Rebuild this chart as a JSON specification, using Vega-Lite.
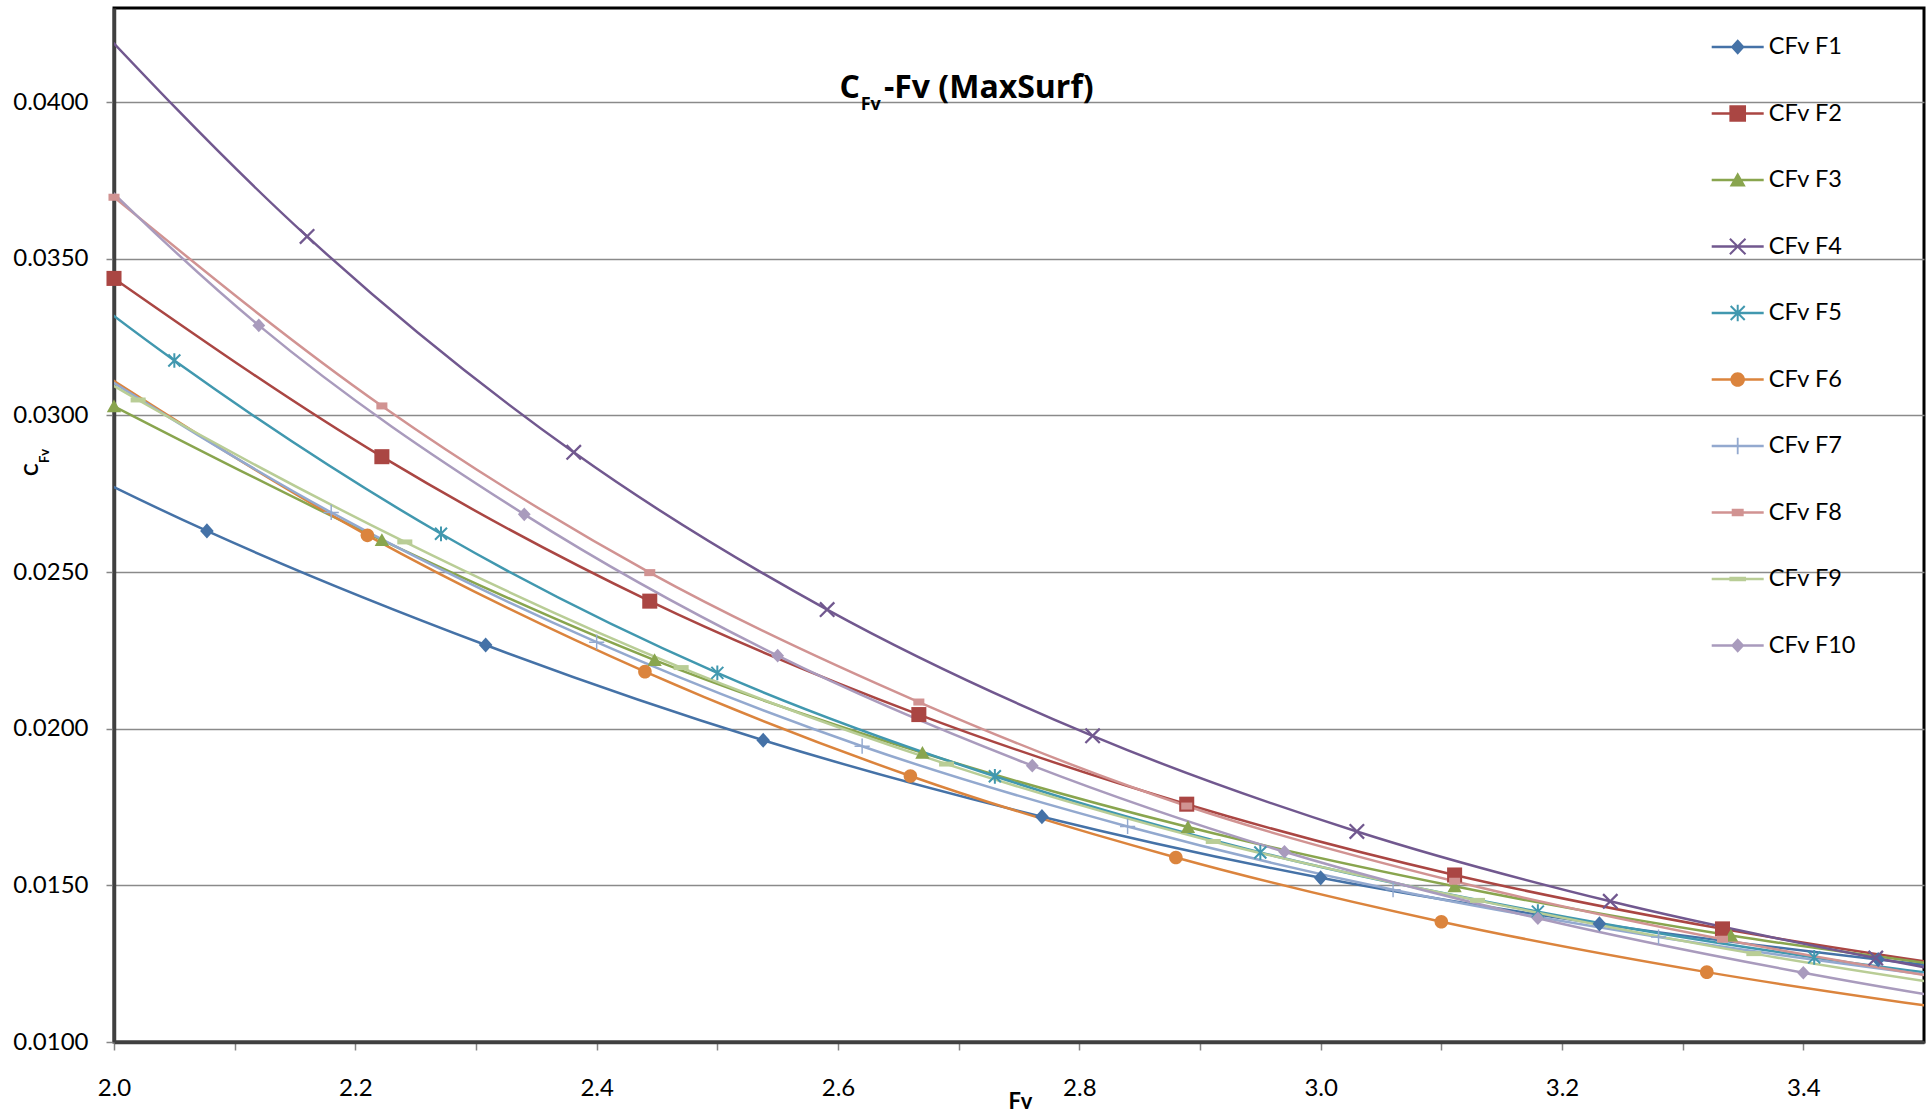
{
  "$schema": "https://vega.github.io/schema/vega-lite/v6.json",
  "width": 1810,
  "height": 1034,
  "autosize": {"type": "none"},
  "padding": {"left": 114, "top": 8, "right": 8, "bottom": 70},
  "background": "white",
  "config": {
    "view": {"stroke": "black", "strokeWidth": 3},
    "font": "Lato",
    "axis": {
      "domainColor": "#404040",
      "domainWidth": 3.5,
      "tickColor": "#868686",
      "tickWidth": 1.5,
      "tickSize": 8,
      "labelFont": "Lato",
      "labelFontSize": 24,
      "labelColor": "black",
      "labelFlush": false,
      "labelOverlap": false,
      "labelBound": false
    }
  },
  "datasets": {
    "cfv": [
      {"series": "CFv F1", "Fv": 1.846, "CFv": 0.03072},
      {"series": "CFv F1", "Fv": 2.077, "CFv": 0.02631},
      {"series": "CFv F1", "Fv": 2.308, "CFv": 0.02267},
      {"series": "CFv F1", "Fv": 2.538, "CFv": 0.01963},
      {"series": "CFv F1", "Fv": 2.769, "CFv": 0.01719},
      {"series": "CFv F1", "Fv": 3.0, "CFv": 0.01524},
      {"series": "CFv F1", "Fv": 3.231, "CFv": 0.01377},
      {"series": "CFv F1", "Fv": 3.462, "CFv": 0.01263},
      {"series": "CFv F1", "Fv": 3.692, "CFv": 0.0117},
      {"series": "CFv F2", "Fv": 2.0, "CFv": 0.03437},
      {"series": "CFv F2", "Fv": 2.222, "CFv": 0.02868},
      {"series": "CFv F2", "Fv": 2.444, "CFv": 0.02407},
      {"series": "CFv F2", "Fv": 2.667, "CFv": 0.02045},
      {"series": "CFv F2", "Fv": 2.889, "CFv": 0.01759},
      {"series": "CFv F2", "Fv": 3.111, "CFv": 0.01533},
      {"series": "CFv F2", "Fv": 3.333, "CFv": 0.01361},
      {"series": "CFv F2", "Fv": 3.556, "CFv": 0.01226},
      {"series": "CFv F3", "Fv": 2.0, "CFv": 0.03029},
      {"series": "CFv F3", "Fv": 2.222, "CFv": 0.02602},
      {"series": "CFv F3", "Fv": 2.448, "CFv": 0.02219},
      {"series": "CFv F3", "Fv": 2.67, "CFv": 0.01923},
      {"series": "CFv F3", "Fv": 2.89, "CFv": 0.01686},
      {"series": "CFv F3", "Fv": 3.111, "CFv": 0.01497},
      {"series": "CFv F3", "Fv": 3.34, "CFv": 0.0134},
      {"series": "CFv F3", "Fv": 3.562, "CFv": 0.01222},
      {"series": "CFv F4", "Fv": 1.943, "CFv": 0.0442},
      {"series": "CFv F4", "Fv": 2.16, "CFv": 0.03571},
      {"series": "CFv F4", "Fv": 2.381, "CFv": 0.02882},
      {"series": "CFv F4", "Fv": 2.591, "CFv": 0.0238},
      {"series": "CFv F4", "Fv": 2.811, "CFv": 0.01977},
      {"series": "CFv F4", "Fv": 3.03, "CFv": 0.01672},
      {"series": "CFv F4", "Fv": 3.24, "CFv": 0.01449},
      {"series": "CFv F4", "Fv": 3.46, "CFv": 0.01268},
      {"series": "CFv F4", "Fv": 3.678, "CFv": 0.0112},
      {"series": "CFv F5", "Fv": 1.823, "CFv": 0.0386},
      {"series": "CFv F5", "Fv": 2.05, "CFv": 0.03175},
      {"series": "CFv F5", "Fv": 2.271, "CFv": 0.02622},
      {"series": "CFv F5", "Fv": 2.5, "CFv": 0.02178},
      {"series": "CFv F5", "Fv": 2.73, "CFv": 0.01848},
      {"series": "CFv F5", "Fv": 2.95, "CFv": 0.01605},
      {"series": "CFv F5", "Fv": 3.18, "CFv": 0.01416},
      {"series": "CFv F5", "Fv": 3.409, "CFv": 0.0127},
      {"series": "CFv F5", "Fv": 3.636, "CFv": 0.01158},
      {"series": "CFv F6", "Fv": 1.99, "CFv": 0.03134},
      {"series": "CFv F6", "Fv": 2.21, "CFv": 0.02617},
      {"series": "CFv F6", "Fv": 2.44, "CFv": 0.02182},
      {"series": "CFv F6", "Fv": 2.66, "CFv": 0.01849},
      {"series": "CFv F6", "Fv": 2.88, "CFv": 0.01589},
      {"series": "CFv F6", "Fv": 3.1, "CFv": 0.01384},
      {"series": "CFv F6", "Fv": 3.32, "CFv": 0.01223},
      {"series": "CFv F6", "Fv": 3.54, "CFv": 0.01095},
      {"series": "CFv F7", "Fv": 1.96, "CFv": 0.032},
      {"series": "CFv F7", "Fv": 2.18, "CFv": 0.0269},
      {"series": "CFv F7", "Fv": 2.4, "CFv": 0.02276},
      {"series": "CFv F7", "Fv": 2.62, "CFv": 0.01944},
      {"series": "CFv F7", "Fv": 2.84, "CFv": 0.01688},
      {"series": "CFv F7", "Fv": 3.06, "CFv": 0.01486},
      {"series": "CFv F7", "Fv": 3.28, "CFv": 0.01335},
      {"series": "CFv F7", "Fv": 3.5, "CFv": 0.01216},
      {"series": "CFv F8", "Fv": 2.0, "CFv": 0.03696},
      {"series": "CFv F8", "Fv": 2.222, "CFv": 0.0303},
      {"series": "CFv F8", "Fv": 2.444, "CFv": 0.02498},
      {"series": "CFv F8", "Fv": 2.667, "CFv": 0.02085},
      {"series": "CFv F8", "Fv": 2.889, "CFv": 0.01753},
      {"series": "CFv F8", "Fv": 3.111, "CFv": 0.01513},
      {"series": "CFv F8", "Fv": 3.333, "CFv": 0.01328},
      {"series": "CFv F8", "Fv": 3.556, "CFv": 0.01178},
      {"series": "CFv F9", "Fv": 1.8, "CFv": 0.0357},
      {"series": "CFv F9", "Fv": 2.02, "CFv": 0.03049},
      {"series": "CFv F9", "Fv": 2.241, "CFv": 0.02596},
      {"series": "CFv F9", "Fv": 2.47, "CFv": 0.02195},
      {"series": "CFv F9", "Fv": 2.69, "CFv": 0.01887},
      {"series": "CFv F9", "Fv": 2.911, "CFv": 0.0164},
      {"series": "CFv F9", "Fv": 3.13, "CFv": 0.01452},
      {"series": "CFv F9", "Fv": 3.359, "CFv": 0.01282},
      {"series": "CFv F9", "Fv": 3.58, "CFv": 0.01148},
      {"series": "CFv F10", "Fv": 1.906, "CFv": 0.04067},
      {"series": "CFv F10", "Fv": 2.12, "CFv": 0.03287},
      {"series": "CFv F10", "Fv": 2.34, "CFv": 0.02684},
      {"series": "CFv F10", "Fv": 2.55, "CFv": 0.02233},
      {"series": "CFv F10", "Fv": 2.761, "CFv": 0.01882},
      {"series": "CFv F10", "Fv": 2.97, "CFv": 0.01607},
      {"series": "CFv F10", "Fv": 3.18, "CFv": 0.01395},
      {"series": "CFv F10", "Fv": 3.4, "CFv": 0.01221},
      {"series": "CFv F10", "Fv": 3.613, "CFv": 0.01081}
    ]
  },
  "layer": [
    {
      "data": {"name": "cfv"},
      "mark": {"type": "line", "clip": true, "interpolate": "monotone", "strokeWidth": 2.5},
      "encoding": {
        "x": {
          "field": "Fv", "type": "quantitative",
          "scale": {"domain": [2, 3.5], "nice": false, "zero": false},
          "axis": {
            "values": [2.0, 2.1, 2.2, 2.3, 2.4, 2.5, 2.6, 2.7, 2.8, 2.9, 3.0, 3.1, 3.2, 3.3, 3.4],
            "labelExpr": "round(datum.value*10)%2==0 ? format(datum.value,'.1f') : ''",
            "grid": false,
            "labelPadding": 45,
            "labelBaseline": "alphabetic",
            "title": "Fv",
            "titleFont": "Lato",
            "titleFontSize": 22,
            "titleFontWeight": "bold",
            "titleColor": "black",
            "titleX": 906,
            "titleY": 66,
            "titleBaseline": "alphabetic"
          }
        },
        "y": {
          "field": "CFv", "type": "quantitative",
          "scale": {"domain": [0.01, 0.043], "nice": false, "zero": false},
          "axis": {
            "values": [0.01, 0.015, 0.02, 0.025, 0.03, 0.035, 0.04],
            "format": ".4f",
            "grid": true,
            "gridColor": "#8a8a8a",
            "gridWidth": 1.5,
            "labelPadding": 18,
            "title": null
          }
        },
        "stroke": {
          "field": "series", "type": "nominal",
          "sort": ["CFv F1", "CFv F2", "CFv F3", "CFv F4", "CFv F5", "CFv F6", "CFv F7", "CFv F8", "CFv F9", "CFv F10"],
          "scale": {"range": ["#4572A7", "#AA4643", "#89A54E", "#71588F", "#4198AF", "#DB843D", "#93A9CF", "#D19392", "#B9CD96", "#A99BBD"]},
          "legend": null
        }
      }
    },
    {
      "data": {"name": "cfv"},
      "transform": [{"filter": "datum.series == 'CFv F1' && datum.Fv >= 2 && datum.Fv < 3.5"}],
      "mark": {"type": "point", "filled": true, "size": 256, "opacity": 1, "strokeWidth": 0, "fill": "#4572A7", "shape": "M0,-0.95L0.85,0L0,0.95L-0.85,0Z"},
      "encoding": {"x": {"field": "Fv", "type": "quantitative"}, "y": {"field": "CFv", "type": "quantitative"}}
    },
    {
      "data": {"name": "cfv"},
      "transform": [{"filter": "datum.series == 'CFv F2' && datum.Fv >= 2 && datum.Fv < 3.5"}],
      "mark": {"type": "point", "filled": true, "size": 256, "opacity": 1, "strokeWidth": 0, "fill": "#AA4643", "shape": "M-0.94,-0.94H0.94V0.94H-0.94Z"},
      "encoding": {"x": {"field": "Fv", "type": "quantitative"}, "y": {"field": "CFv", "type": "quantitative"}}
    },
    {
      "data": {"name": "cfv"},
      "transform": [{"filter": "datum.series == 'CFv F3' && datum.Fv >= 2 && datum.Fv < 3.5"}],
      "mark": {"type": "point", "filled": true, "size": 256, "opacity": 1, "strokeWidth": 0, "fill": "#89A54E", "shape": "M0,-0.85L0.9,0.75L-0.9,0.75Z"},
      "encoding": {"x": {"field": "Fv", "type": "quantitative"}, "y": {"field": "CFv", "type": "quantitative"}}
    },
    {
      "data": {"name": "cfv"},
      "transform": [{"filter": "datum.series == 'CFv F4' && datum.Fv >= 2 && datum.Fv < 3.5"}],
      "mark": {"type": "point", "filled": true, "size": 256, "opacity": 1, "strokeWidth": 0, "fill": "#71588F", "shape": "M-0.8,-1L1,0.8L0.8,1L-1,-0.8ZM0.8,-1L1,-0.8L-0.8,1L-1,0.8Z"},
      "encoding": {"x": {"field": "Fv", "type": "quantitative"}, "y": {"field": "CFv", "type": "quantitative"}}
    },
    {
      "data": {"name": "cfv"},
      "transform": [{"filter": "datum.series == 'CFv F5' && datum.Fv >= 2 && datum.Fv < 3.5"}],
      "mark": {"type": "point", "filled": true, "size": 256, "opacity": 1, "strokeWidth": 0, "fill": "#4198AF", "shape": "M-0.66,-0.84L0.84,0.66L0.66,0.84L-0.84,-0.66ZM0.66,-0.84L0.84,-0.66L-0.66,0.84L-0.84,0.66ZM-0.125,-0.92H0.125V0.92H-0.125Z"},
      "encoding": {"x": {"field": "Fv", "type": "quantitative"}, "y": {"field": "CFv", "type": "quantitative"}}
    },
    {
      "data": {"name": "cfv"},
      "transform": [{"filter": "datum.series == 'CFv F6' && datum.Fv >= 2 && datum.Fv < 3.5"}],
      "mark": {"type": "point", "filled": true, "size": 256, "opacity": 1, "strokeWidth": 0, "fill": "#DB843D", "shape": "M0.85,0A0.85,0.85,0,1,1,-0.85,0A0.85,0.85,0,1,1,0.85,0Z"},
      "encoding": {"x": {"field": "Fv", "type": "quantitative"}, "y": {"field": "CFv", "type": "quantitative"}}
    },
    {
      "data": {"name": "cfv"},
      "transform": [{"filter": "datum.series == 'CFv F7' && datum.Fv >= 2 && datum.Fv < 3.5"}],
      "mark": {"type": "point", "filled": true, "size": 256, "opacity": 1, "strokeWidth": 0, "fill": "#93A9CF", "shape": "M-0.09,-0.95H0.09V0.95H-0.09ZM-0.95,-0.09H0.95V0.09H-0.95Z"},
      "encoding": {"x": {"field": "Fv", "type": "quantitative"}, "y": {"field": "CFv", "type": "quantitative"}}
    },
    {
      "data": {"name": "cfv"},
      "transform": [{"filter": "datum.series == 'CFv F8' && datum.Fv >= 2 && datum.Fv < 3.5"}],
      "mark": {"type": "point", "filled": true, "size": 256, "opacity": 1, "strokeWidth": 0, "fill": "#D19392", "shape": "M-0.69,-0.44H0.69V0.44H-0.69Z"},
      "encoding": {"x": {"field": "Fv", "type": "quantitative"}, "y": {"field": "CFv", "type": "quantitative"}}
    },
    {
      "data": {"name": "cfv"},
      "transform": [{"filter": "datum.series == 'CFv F9' && datum.Fv >= 2 && datum.Fv < 3.5"}],
      "mark": {"type": "point", "filled": true, "size": 256, "opacity": 1, "strokeWidth": 0, "fill": "#B9CD96", "shape": "M-0.94,-0.31H0.94V0.31H-0.94Z"},
      "encoding": {"x": {"field": "Fv", "type": "quantitative"}, "y": {"field": "CFv", "type": "quantitative"}}
    },
    {
      "data": {"name": "cfv"},
      "transform": [{"filter": "datum.series == 'CFv F10' && datum.Fv >= 2 && datum.Fv < 3.5"}],
      "mark": {"type": "point", "filled": true, "size": 256, "opacity": 1, "strokeWidth": 0, "fill": "#A99BBD", "shape": "M0,-0.85L0.8,0L0,0.85L-0.8,0Z"},
      "encoding": {"x": {"field": "Fv", "type": "quantitative"}, "y": {"field": "CFv", "type": "quantitative"}}
    },
    {
      "data": {"name": "cfv"},
      "transform": [{"filter": "datum.Fv > 100"}],
      "mark": {"type": "point", "filled": true, "size": 10, "opacity": 1, "strokeWidth": 0, "clip": true},
      "encoding": {
        "x": {"field": "Fv", "type": "quantitative"},
        "y": {"field": "CFv", "type": "quantitative"},
        "color": {
          "field": "series", "type": "nominal",
          "scale": {
            "domain": ["CFv F1", "CFv F2", "CFv F3", "CFv F4", "CFv F5", "CFv F6", "CFv F7", "CFv F8", "CFv F9", "CFv F10"],
            "range": ["#4572A7", "#AA4643", "#89A54E", "#71588F", "#4198AF", "#DB843D", "#93A9CF", "#D19392", "#B9CD96", "#A99BBD"]
          },
          "legend": {
            "orient": "none",
            "legendX": 1597.7,
            "legendY": 13,
            "title": null,
            "padding": 0,
            "symbolSize": 2704,
            "symbolStrokeWidth": 0,
            "symbolOpacity": 1,
            "labelFont": "Lato",
            "labelFontSize": 23.5,
            "labelColor": "black",
            "labelOffset": 5,
            "rowPadding": 28.5
          }
        },
        "shape": {
          "field": "series", "type": "nominal",
          "scale": {
            "domain": ["CFv F1", "CFv F2", "CFv F3", "CFv F4", "CFv F5", "CFv F6", "CFv F7", "CFv F8", "CFv F9", "CFv F10"],
            "range": [
              "M-1,-0.048H1V0.048H-1ZM0,-0.3L0.27,0L0,0.3L-0.27,0Z",
              "M-1,-0.048H1V0.048H-1ZM-0.32,-0.32H0.32V0.32H-0.32Z",
              "M-1,-0.048H1V0.048H-1ZM0,-0.3L0.31,0.25L-0.31,0.25Z",
              "M-1,-0.048H1V0.048H-1ZM-0.272,-0.328L0.328,0.272L0.272,0.328L-0.328,-0.272ZM0.272,-0.328L0.328,-0.272L-0.272,0.328L-0.328,0.272Z",
              "M-1,-0.048H1V0.048H-1ZM-0.243,-0.297L0.297,0.243L0.243,0.297L-0.297,-0.243ZM0.243,-0.297L0.297,-0.243L-0.243,0.297L-0.297,0.243ZM-0.038,-0.32H0.038V0.32H-0.038Z",
              "M-1,-0.048H1V0.048H-1ZM0.28,0A0.28,0.28,0,1,1,-0.28,0A0.28,0.28,0,1,1,0.28,0Z",
              "M-1,-0.048H1V0.048H-1ZM-0.035,-0.32H0.035V0.32H-0.035ZM-0.32,-0.035H0.32V0.035H-0.32Z",
              "M-1,-0.048H1V0.048H-1ZM-0.23,-0.14H0.23V0.14H-0.23Z",
              "M-1,-0.048H1V0.048H-1ZM-0.32,-0.09H0.32V0.09H-0.32Z",
              "M-1,-0.048H1V0.048H-1ZM0,-0.28L0.26,0L0,0.28L-0.26,0Z"
            ]
          }
        }
      }
    },
    {
      "data": {"values": [{}]},
      "mark": {"type": "text", "text": "C", "font": "Open Sans", "fontSize": 32, "fontWeight": "bold", "align": "right", "baseline": "alphabetic", "color": "black", "clip": false},
      "encoding": {"x": {"datum": 2.61823}, "y": {"datum": 0.040118}}
    },
    {
      "data": {"values": [{}]},
      "mark": {"type": "text", "text": "Fv", "font": "Open Sans", "fontSize": 18, "fontWeight": "bold", "align": "left", "baseline": "alphabetic", "color": "black", "clip": false},
      "encoding": {"x": {"datum": 2.61881}, "y": {"datum": 0.039745}}
    },
    {
      "data": {"values": [{}]},
      "mark": {"type": "text", "text": "-Fv (MaxSurf)", "font": "Open Sans", "fontSize": 32, "fontWeight": "bold", "align": "left", "baseline": "alphabetic", "color": "black", "clip": false},
      "encoding": {"x": {"datum": 2.63812}, "y": {"datum": 0.040118}}
    },
    {
      "data": {"values": [{}]},
      "mark": {"type": "text", "text": "C", "font": "Lato", "fontSize": 19, "fontWeight": "bold", "align": "left", "baseline": "alphabetic", "angle": 270, "color": "black", "clip": false},
      "encoding": {"x": {"datum": 1.93702}, "y": {"datum": 0.028066}}
    },
    {
      "data": {"values": [{}]},
      "mark": {"type": "text", "text": "Fv", "font": "Lato", "fontSize": 13, "fontWeight": "bold", "align": "left", "baseline": "alphabetic", "angle": 270, "color": "black", "clip": false},
      "encoding": {"x": {"datum": 1.9462}, "y": {"datum": 0.028479}}
    }
  ]
}
